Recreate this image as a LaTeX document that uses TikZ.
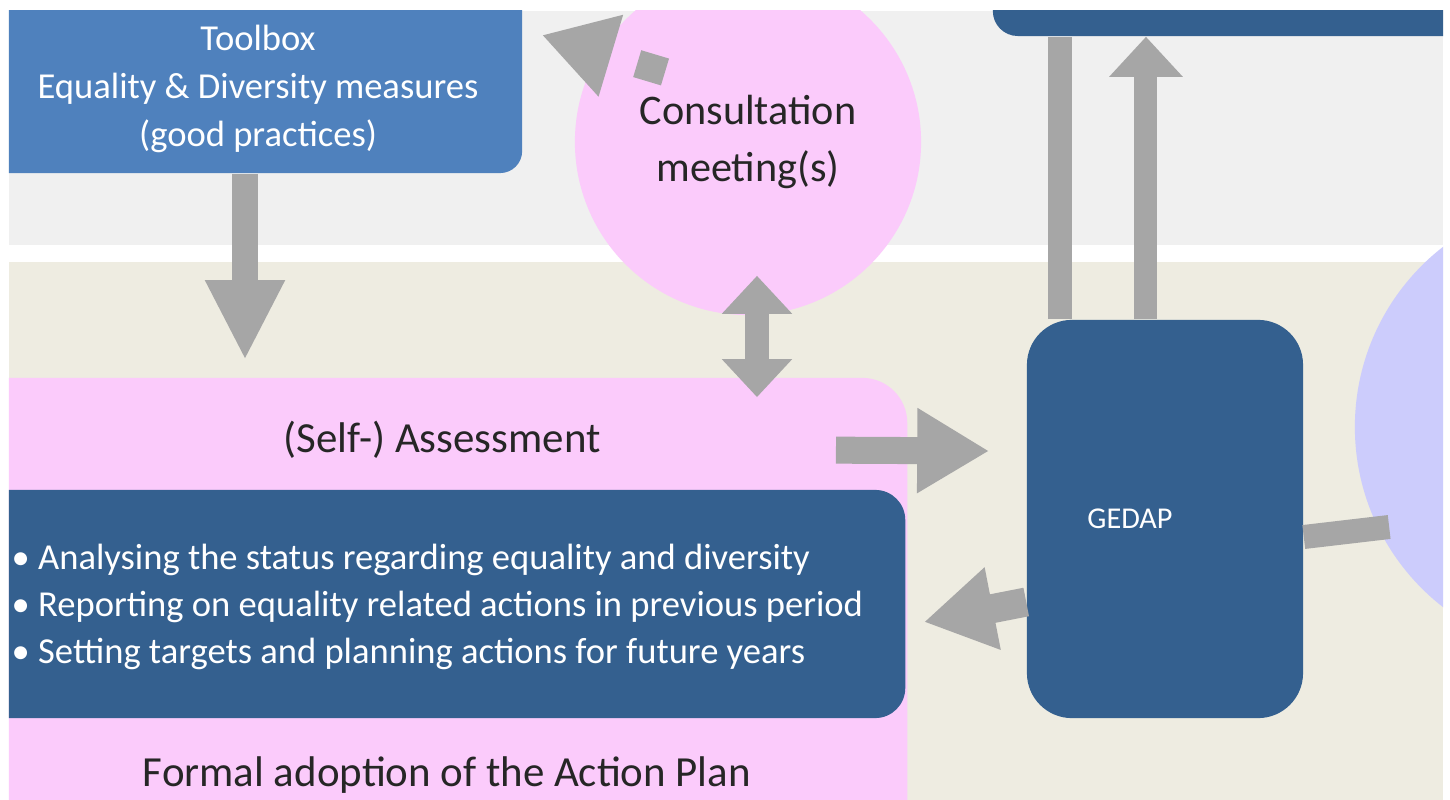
\documentclass[tikz,border=0pt]{standalone}
\usepackage{fontspec}
\setmainfont{Carlito}
\usetikzlibrary{arrows.meta, positioning, calc}
\definecolor{bandgray}{HTML}{F0F0F0}
\definecolor{bandtan}{HTML}{EEECE1}
\definecolor{pinkfill}{HTML}{FBCBFB}
\definecolor{toolblue}{HTML}{4F81BD}
\definecolor{darkblue}{HTML}{34608F}
\definecolor{lavfill}{HTML}{CCCCFC}
\definecolor{arrowgray}{HTML}{A6A6A6}
\tikzstyle{toolbox} = [rectangle, rounded corners=0.22cm, fill=toolblue, inner sep=0pt]
\tikzstyle{darkbox} = [rectangle, rounded corners=0.45cm, fill=darkblue, inner sep=0pt]
\tikzstyle{pinkbox} = [rectangle, rounded corners=0.45cm, fill=pinkfill, inner sep=0pt]
\tikzstyle{bubble} = [circle, inner sep=0pt, align=center]
\tikzstyle{whitetext} = [text=white, align=center, inner sep=0pt]
\tikzstyle{blacktext} = [text=black!85, align=center, inner sep=0pt]
\tikzstyle{bigarrow} = [draw=arrowgray, line width=0.27cm, -{Triangle[length=0.72cm, width=0.8cm]}]
\tikzstyle{bar} = [draw=arrowgray, line width=0.24cm]

\begin{document}
\begin{tikzpicture}[x=0.01cm, y=-0.01cm]
    \useasboundingbox (0,0) rectangle (1450,800);
    \fill[white] (0,0) rectangle (1450,800);
    \clip (9,11) rectangle (1443,800);
    % bands
    \fill[bandgray] (9,11) rectangle (1443,245);
    \fill[bandtan] (9,262) rectangle (1443,800);

    \node (lav) [bubble, fill=lavfill, minimum size=4.56cm] at (1583,427) {};
    \node (consult) [bubble, fill=pinkfill, minimum size=3.46cm, text=black!85,
        font=\fontsize{12}{16.2}\selectfont] at (748,142) {Consultation\\meeting(s)};
    \node (toolbox) [toolbox, minimum width=5.62cm, minimum height=2.33cm] at (241,56.5) {};
    \node (tbtext) [whitetext, font=\fontsize{10.4}{13.7}\selectfont] at (258,89)
        {Toolbox\\Equality \& Diversity measures\\(good practices)};
    \node (topbox) [darkbox, rounded corners=0.25cm, minimum width=6.07cm, minimum height=0.96cm] at (1296.5,-12) {};
    \node (assess) [pinkbox, minimum width=9.47cm, minimum height=5.02cm] at (433.5,629) {};
    \node (asstitle) [blacktext, font=\fontsize{12.2}{14}\selectfont] at (442,440) {(Self-) Assessment};
    \node (adopt) [blacktext, font=\fontsize{12.2}{14}\selectfont] at (447,775) {Formal adoption of the Action Plan};
    \node (steps) [darkbox, rounded corners=0.3cm, minimum width=9.45cm, minimum height=2.28cm] at (432.5,604) {};
    \node (steptext) [whitetext, align=left, anchor=west, font=\fontsize{10.4}{13.4}\selectfont] at (11,607)
        {\textbullet\ Analysing the status regarding equality and diversity\\
         \textbullet\ Reporting on equality related actions in previous period\\
         \textbullet\ Setting targets and planning actions for future years};
    \node (gedap) [darkbox, minimum width=2.76cm, minimum height=3.98cm] at (1165,519) {};
    \node (gedaptext) [whitetext, font=\fontsize{8.6}{10}\selectfont] at (1130,519) {GEDAP};

    % connectors
    \draw [bigarrow, line width=0.26cm, -{Triangle[length=0.8cm, width=0.74cm]}, shorten >=0.17cm]
        ([xshift=0.04cm]toolbox.south) -- ([xshift=0.04cm]toolbox.south |- assess.north);
    \draw [bar, line width=0.23cm, {Triangle[length=0.38cm, width=0.68cm]}-{Triangle[length=0.38cm, width=0.68cm]}]
        ($(consult.south |- assess.north)+(9,20)$) -- ($(consult.south)+(9,-40)$);
    \draw [bigarrow] ($(assess.north east)+(-72,73)$) -- ($(gedap.west)+(-37,-68)$);
    \draw [bigarrow, line width=0.29cm, -{Triangle[length=0.7cm, width=0.79cm]}] ($(gedap.west)+(0,83)$) -- ($(assess.east)+(16,-7)$);
    \draw [bar] ($(lav.west)+(35,100)$) -- ($(gedap.east)+(0,18)$);
    \draw [bar, line width=0.23cm, -{Triangle[length=0.4cm, width=0.71cm]}]
        ([xshift=-0.19cm]gedap.north) -- ([xshift=-0.19cm]gedap.north |- topbox.south);
    \draw [bar] ([xshift=-1.05cm]gedap.north) -- ([xshift=-1.05cm]gedap.north |- topbox.south);
    \draw [bigarrow, line width=0.28cm, dash pattern=on 0.29cm off 0.5cm]
        ($(consult.center)+(-83,-70)$) -- ($(toolbox.east)+(19,-21.5)$);
\end{tikzpicture}
\end{document}
